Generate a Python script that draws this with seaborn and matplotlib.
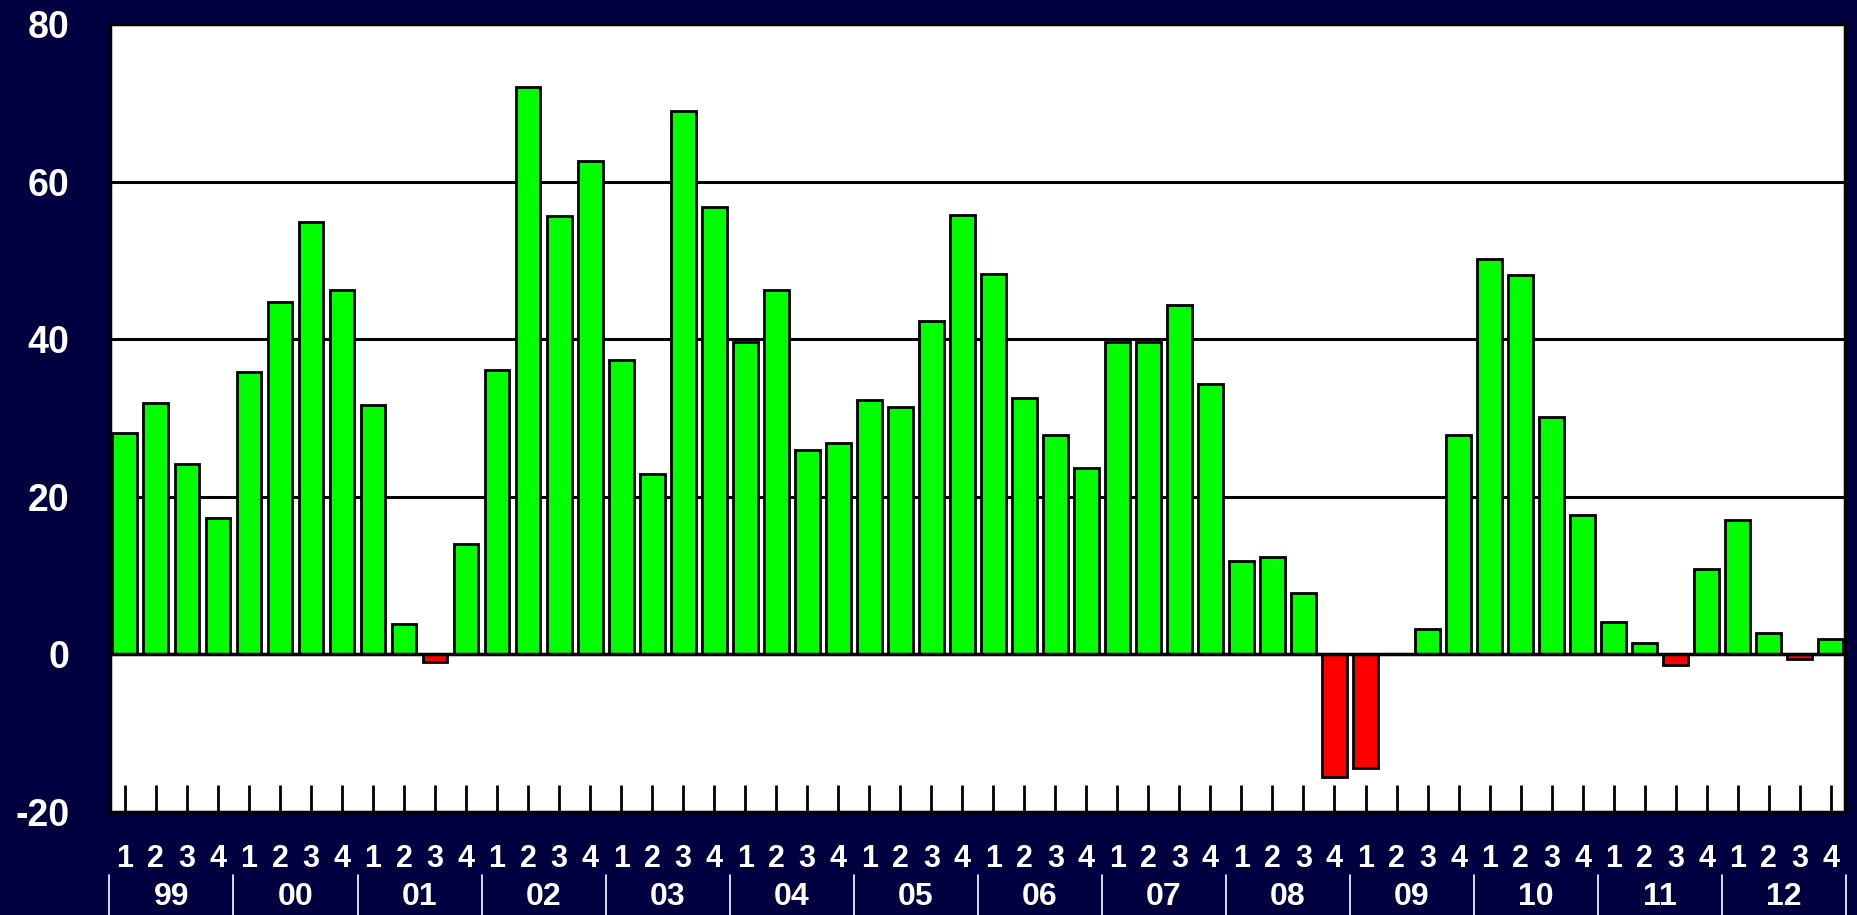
import matplotlib
matplotlib.use("Agg")
import matplotlib.pyplot as plt
import matplotlib.transforms as mtransforms
import seaborn as sns
import pandas as pd
import numpy as np

years = ["99", "00", "01", "02", "03", "04", "05", "06", "07", "08", "09", "10", "11", "12"]
quarters = ["1", "2", "3", "4"]
values = [
    28.1, 31.9, 24.2, 17.3,
    35.8, 44.7, 54.9, 46.3,
    31.7, 3.9, -1.0, 14.0,
    36.1, 72.0, 55.6, 62.6,
    37.3, 22.9, 69.0, 56.8,
    39.7, 46.2, 25.9, 26.8,
    32.3, 31.4, 42.3, 55.8,
    48.3, 32.5, 27.8, 23.6,
    39.7, 39.7, 44.4, 34.3,
    11.9, 12.3, 7.8, -15.6,
    -14.4, 0.0, 3.2, 27.8,
    50.2, 48.1, 30.1, 17.7,
    4.1, 1.5, -1.3, 10.8,
    17.1, 2.7, -0.6, 2.0,
]
yticks = [-20, 0, 20, 40, 60, 80]

BG = "#000040"
GREEN = "#00FF00"
RED = "#FF0000"

sns.set_theme(style="white")
plt.rcParams["font.family"] = ["Liberation Sans", "DejaVu Sans"]
plt.rcParams["font.weight"] = "bold"

keys = [f"{y}-{q}" for y in years for q in quarters]
df = pd.DataFrame({"key": keys, "value": values})
colors = {k: (GREEN if v >= 0 else RED) for k, v in zip(keys, values)}

fig = plt.figure(figsize=(18.58, 9.15), dpi=100, facecolor=BG)
ax = fig.add_axes([110 / 1858, 1 - 812 / 915, (1845 - 110) / 1858, (812 - 24) / 915])
ax.set_facecolor("white")

ax.set_axisbelow(True)
ax.yaxis.grid(True, color="black", linewidth=2.2)
sns.barplot(data=df, x="key", y="value", hue="key", order=keys, palette=colors,
            legend=False, width=0.8, edgecolor="black", linewidth=2.0,
            saturation=1, ax=ax, zorder=3)
ax.axhline(0, color="black", linewidth=2.5, zorder=4)

ax.set_ylim(-20, 80)
ax.set_xlim(-0.48, len(keys) - 1 + 0.46)
ax.set_yticks(yticks)
ax.set_yticklabels([str(t) for t in yticks])
ax.tick_params(axis="y", length=0, pad=29, labelsize=27, labelcolor="white")
for lab in ax.get_yticklabels():
    lab.set_fontweight("bold")

ax.set_xticks(range(len(keys)))
ax.tick_params(axis="x", direction="in", length=19.5, width=2, color="black",
               labelbottom=False, bottom=True)
ax.set_xlabel("")
ax.set_ylabel("")
for s in ax.spines.values():
    s.set_visible(True)
    s.set_color("black")
    s.set_linewidth(2.5)

trans = mtransforms.blended_transform_factory(ax.transData, fig.transFigure)
for i, k in enumerate(keys):
    q = k.split("-")[1]
    ax.text(i, 1 - 859 / 915, q, transform=trans, ha="center", va="center",
            color="white", fontsize=22, fontweight="bold", clip_on=False)
for j, y in enumerate(years):
    ax.text(j * 4 + 1.5, 1 - 897 / 915, y, transform=trans, ha="center", va="center",
            color="white", fontsize=23, fontweight="bold", clip_on=False)
for j in range(len(years) + 1):
    x = j * 4 - 0.5
    ax.plot([x, x], [1 - 875 / 915, 0], transform=trans, color="white",
            linewidth=1.2, clip_on=False)

fig.savefig("out.png", dpi=100, facecolor=BG)
